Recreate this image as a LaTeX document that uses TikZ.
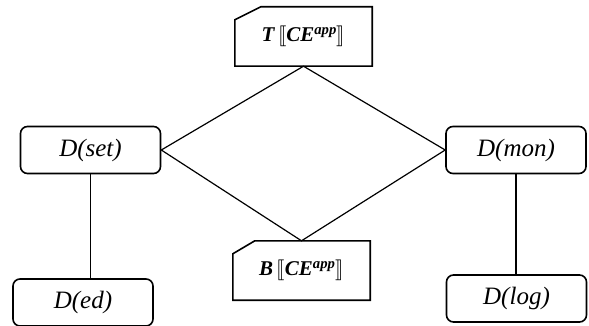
\documentclass[tikz,border=0pt]{standalone}
\usepackage{amsmath}
\usepackage{stmaryrd}
\usepackage{fontspec}
\setmainfont{Liberation Serif}
\usetikzlibrary{calc}
\newcommand{\bilab}[1]{{\bfseries\itshape #1}}
\begin{document}
\begin{tikzpicture}[x=1pt,y=-1pt,
  dbox/.style={draw,line width=1.6pt,rounded corners=7pt,minimum width=140pt,minimum height=47pt,inner sep=0pt,font=\fontsize{25}{28}\selectfont\itshape},
  cbox/.style={minimum width=137pt,minimum height=59pt,inner sep=0pt,font=\fontsize{21}{25}\selectfont},
  cutline/.style={line width=1.6pt,line join=miter},
  link/.style={line width=1.2pt}]
\useasboundingbox (0,0) rectangle (589,326);
\node[cbox] (T) at (303.5,36.5) {\bilab{T}\,$\llbracket$\bilab{CE\textsuperscript{app}}$\rrbracket$};
\node[cbox] (B) at (301.5,270.5) {\bilab{B}\,$\llbracket$\bilab{CE\textsuperscript{app}}$\rrbracket$};
\draw[cutline] ($(T.north west)+(0,13)$) -- ($(T.north west)+(26,0)$) -- (T.north east) -- (T.south east) -- (T.south west) -- cycle;
\draw[cutline] ($(B.north west)+(0,13)$) -- ($(B.north west)+(22,0)$) -- (B.north east) -- (B.south east) -- (B.south west) -- cycle;
\node[dbox] (set) at (90.5,150) {D(set)};
\node[dbox] (mon) at (516,150) {D(mon)};
\node[dbox] (ed) at (83,302.5) {D(ed)};
\node[dbox] (log) at (516.5,298.5) {D(log)};
\draw[link] (set.east) -- (T.south) -- (mon.west) -- (B.north) -- cycle;
\draw[link] (set.south) -- (set.south |- ed.north);
\draw[link] (mon.south) -- (mon.south |- log.north);
\end{tikzpicture}
\end{document}
